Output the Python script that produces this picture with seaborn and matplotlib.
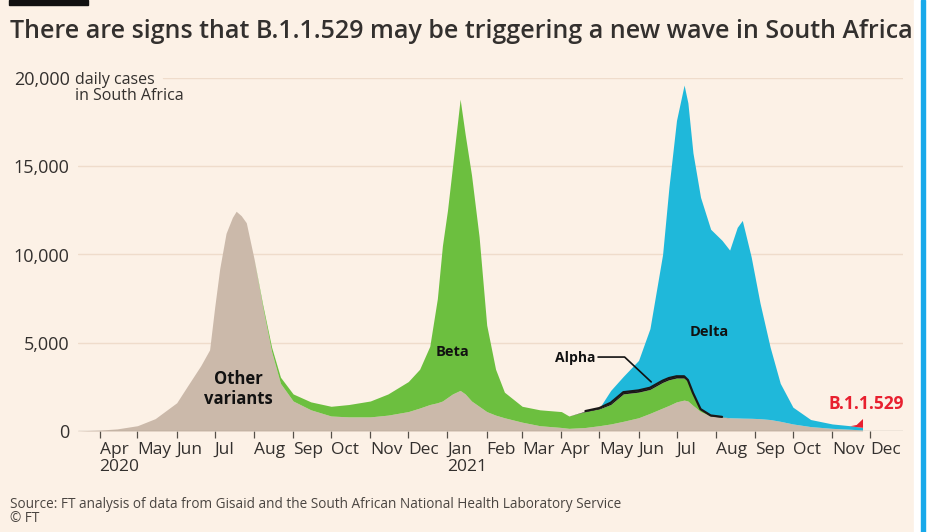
import matplotlib
matplotlib.use("Agg")
import matplotlib.pyplot as plt
import matplotlib.patches as mpatches
import numpy as np
import pandas as pd
import seaborn as sns

# daily cases in South Africa by variant (smoothed)
dates = [
    "2020-03-10", "2020-04-01", "2020-04-15", "2020-05-01", "2020-05-15",
    "2020-06-01", "2020-06-10", "2020-06-20", "2020-06-27", "2020-07-01",
    "2020-07-05", "2020-07-10", "2020-07-15", "2020-07-18", "2020-07-22",
    "2020-07-26", "2020-08-01", "2020-08-08", "2020-08-15", "2020-08-22",
    "2020-09-01", "2020-09-15", "2020-10-01", "2020-10-15", "2020-11-01",
    "2020-11-15", "2020-12-01", "2020-12-10", "2020-12-18", "2020-12-24",
    "2020-12-28", "2021-01-01", "2021-01-05", "2021-01-11", "2021-01-15",
    "2021-01-20", "2021-01-26", "2021-02-01", "2021-02-08", "2021-02-15",
    "2021-03-01", "2021-03-15", "2021-04-01", "2021-04-07", "2021-04-20",
    "2021-05-01", "2021-05-10", "2021-05-20", "2021-06-01", "2021-06-10",
    "2021-06-20", "2021-06-25", "2021-07-01", "2021-07-07", "2021-07-10",
    "2021-07-14", "2021-07-20", "2021-07-28", "2021-08-06", "2021-08-12",
    "2021-08-18", "2021-08-22", "2021-08-29", "2021-09-05", "2021-09-13",
    "2021-09-21", "2021-10-01", "2021-10-15", "2021-11-01", "2021-11-15",
    "2021-11-20", "2021-11-25",
]
other_variants = [
    0, 50, 120, 300, 700,
    1600, 2600, 3700, 4600, 7000,
    9200, 11200, 12100, 12450, 12200,
    11800, 9800, 7000, 4500, 2700,
    1700, 1200, 850, 800, 800,
    900, 1100, 1300, 1500, 1600,
    1700, 1900, 2100, 2300, 2100,
    1700, 1400, 1100, 900, 750,
    500, 300, 200, 150, 200,
    300, 400, 550, 750, 1000,
    1300, 1450, 1650, 1750, 1700,
    1450, 1100, 850, 780, 750,
    740, 730, 720, 700, 650,
    550, 400, 250, 150, 100,
    80, 60,
]
beta = [
    0, 0, 0, 0, 0,
    0, 0, 0, 0, 0,
    0, 0, 0, 0, 0,
    0, 0, 150, 250, 350,
    400, 450, 550, 700, 900,
    1200, 1700, 2200, 3300, 5900,
    8800, 10600, 12900, 16500, 14700,
    12800, 9600, 4900, 2600, 1450,
    900, 900, 900, 700, 900,
    950, 1100, 1550, 1450, 1350,
    1450, 1450, 1350, 1250, 1100,
    650, 100, 0, 0, 0,
    0, 0, 0, 0, 0,
    0, 0, 0, 0, 0,
    0, 0,
]
alpha = [
    0, 0, 0, 0, 0,
    0, 0, 0, 0, 0,
    0, 0, 0, 0, 0,
    0, 0, 0, 0, 0,
    0, 0, 0, 0, 0,
    0, 0, 0, 0, 0,
    0, 0, 0, 0, 0,
    0, 0, 0, 0, 0,
    0, 0, 0, 0, 30,
    50, 100, 100, 100, 100,
    100, 100, 100, 100, 90,
    60, 40, 30, 20, 0,
    0, 0, 0, 0, 0,
    0, 0, 0, 0, 0,
    0, 0,
]
delta = [
    0, 0, 0, 0, 0,
    0, 0, 0, 0, 0,
    0, 0, 0, 0, 0,
    0, 0, 0, 0, 0,
    0, 0, 0, 0, 0,
    0, 0, 0, 0, 0,
    0, 0, 0, 0, 0,
    0, 0, 0, 0, 0,
    0, 0, 0, 0, 0,
    0, 700, 900, 1700, 3350,
    7150, 10800, 14500, 16500, 15700,
    13600, 12000, 10550, 10000, 9500,
    10800, 11200, 9150, 6550, 4100,
    2150, 950, 400, 250, 200,
    170, 150,
]
omicron = [0] * 69 + [0, 120, 500]

series_names = ["Other variants", "Beta", "Alpha", "Delta", "B.1.1.529"]
series_colors = ["#cbb9aa", "#6cbf3f", "#1a1817", "#1fb8da", "#e8202f"]

month_ticks = pd.date_range("2020-04-01", "2021-12-01", freq="MS")
y_ticks = [0, 5000, 10000, 15000, 20000]
y_labels = ["0", "5,000", "10,000", "15,000", "20,000"]

bg = "#fcf1e6"
grid_col = "#efdccb"
text_col = "#33302e"

sns.set_theme(style="white", rc={"axes.facecolor": bg, "figure.facecolor": bg})
plt.rcParams["font.family"] = ["Open Sans", "DejaVu Sans"]

df = pd.DataFrame({
    "date": pd.to_datetime(dates),
    "Other variants": other_variants,
    "Beta": beta,
    "Alpha": alpha,
    "Delta": delta,
    "B.1.1.529": omicron,
})

W, H = 928, 532
fig = plt.figure(figsize=(W / 100, H / 100), dpi=100)
ax_l, ax_r, ax_b, ax_t = 78, 903, 431, 78
ax = fig.add_axes([ax_l / W, (H - ax_b) / H, (ax_r - ax_l) / W, (ax_b - ax_t) / H])
ax.set_facecolor(bg)

# gridlines
for yv in y_ticks[1:-1]:
    ax.axhline(yv, color=grid_col, lw=1.0, zorder=0)
ax.axhline(20000, xmin=0.103, color=grid_col, lw=1.0, zorder=0)

ax.stackplot(df["date"], [df[n] for n in series_names], colors=series_colors,
             linewidth=0, zorder=2)

# black outline on top of the Alpha layer
top_alpha = df["Other variants"] + df["Beta"] + df["Alpha"]
mask = df["Alpha"] > 0
sns.lineplot(x=df.loc[mask, "date"], y=top_alpha[mask], color="#1a1817",
             linewidth=1.6, ax=ax, zorder=3)

ax.axhline(0, color="#9a928a", lw=0.9, zorder=4)

ax.set_xlim(pd.Timestamp("2020-03-15"), pd.Timestamp("2021-12-27"))
ax.set_ylim(0, 20000)
ax.set_xlabel("")
ax.set_ylabel("")
for s in ax.spines.values():
    s.set_visible(False)

ax.set_yticks(y_ticks)
ax.set_yticklabels(y_labels)
ax.tick_params(axis="y", length=0, pad=6, labelsize=13, labelcolor=text_col)

x_labels = []
for d in month_ticks:
    lab = d.strftime("%b")
    if d.month == 1 or d == month_ticks[0]:
        lab += "\n" + str(d.year)
    x_labels.append(lab)
ax.set_xticks(month_ticks)
ax.set_xticklabels(x_labels, ha="left", multialignment="left")
ax.tick_params(axis="x", bottom=True, length=5, width=0.9, color="#555049",
               direction="out", pad=3, labelsize=12.5, labelcolor=text_col)
for t in ax.get_xticklabels():
    t.set_linespacing(1.05)

# series labels
ax.text(pd.Timestamp("2020-07-20"), 2380, "Other\nvariants", ha="center", va="center",
        fontsize=12, fontweight="bold", color="#111111", linespacing=1.1, zorder=5)
ax.text(pd.Timestamp("2021-01-05"), 4500, "Beta", ha="center", va="center",
        fontsize=10.5, fontweight="bold", color="#111111", zorder=5)
ax.text(pd.Timestamp("2021-07-27"), 5600, "Delta", ha="center", va="center",
        fontsize=10.5, fontweight="bold", color="#111111", zorder=5)
ax.text(pd.Timestamp("2021-04-12"), 4150, "Alpha", ha="center", va="center",
        fontsize=10, fontweight="bold", color="#111111", zorder=5)
ax.plot([pd.Timestamp("2021-04-30"), pd.Timestamp("2021-05-21"), pd.Timestamp("2021-06-11")],
        [4190, 4190, 2780], color="#111111", lw=1.2, zorder=5)
ax.text(pd.Timestamp("2021-11-28"), 1530, "B.1.1.529", ha="center", va="center",
        fontsize=12.5, fontweight="bold", color="#e8202f", zorder=5)

# title, subtitle and source
fig.text(10 / W, 1 - 32 / H, "There are signs that B.1.1.529 may be triggering a new wave in South Africa",
         ha="left", va="center", fontsize=18, fontweight="semibold", color=text_col)
fig.text(75 / W, 1 - 88 / H, "daily cases\nin South Africa", ha="left", va="center",
         fontsize=11.5, color=text_col, linespacing=1.0)
fig.text(10 / W, 1 - 505 / H, "Source: FT analysis of data from Gisaid and the South African National Health Laboratory Service",
         ha="left", va="center", fontsize=9.8, color="#4a4541")
fig.text(10 / W, 1 - 519 / H, "\u00a9 FT", ha="left", va="center", fontsize=9.8, color="#4a4541")

# black brand bar and right-hand frame strip
fig.patches.append(mpatches.Rectangle((9 / W, 1 - 5 / H), 79 / W, 5 / H, transform=fig.transFigure,
                                      color="#111111", zorder=10))
fig.patches.append(mpatches.Rectangle((914 / W, 0), 14 / W, 1, transform=fig.transFigure,
                                      color="#ffffff", zorder=10))
fig.patches.append(mpatches.Rectangle((921 / W, 0), 4 / W, 1, transform=fig.transFigure,
                                      color="#18a9ea", zorder=11))

fig.savefig("out.png", dpi=100, facecolor=bg)
